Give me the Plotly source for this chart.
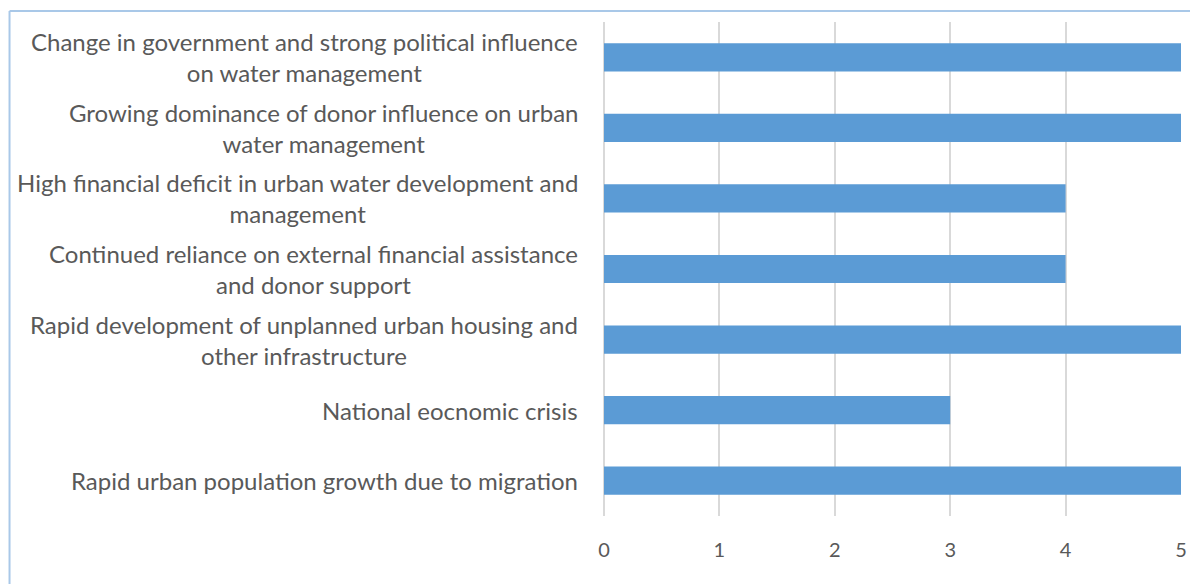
import plotly.graph_objects as go

# Drivers of change in urban water management, listed top to bottom
categories = [
    "Change in government and strong political influence<br>on water management",
    "Growing dominance of donor influence on urban<br>water management",
    "High financial deficit in urban water development and<br>management",
    "Continued reliance on external financial assistance<br>and donor support",
    "Rapid development of unplanned urban housing and<br>other infrastructure",
    "National eocnomic crisis",
    "Rapid urban population growth due to migration",
]
scores = [5, 5, 4, 4, 5, 3, 5]
x_ticks = [0, 1, 2, 3, 4, 5]

W, H = 1190, 584
L, R, T, B = 603.5, 8.5, 22, 68
plot_w = W - L - R
plot_h = H - T - B

fig = go.Figure(
    go.Bar(
        x=scores,
        y=categories,
        orientation="h",
        marker=dict(color="#5b9bd5", line=dict(width=0)),
        hoverinfo="skip",
    )
)

# Category labels as centred multi-line text, right edge just left of the plot
for cat in categories:
    fig.add_annotation(
        x=0, xref="paper", y=cat, yref="y",
        text=cat, showarrow=False,
        xanchor="right", yanchor="middle", align="center",
        xshift=-24,
        font=dict(family="Lato", size=24, color="#595959"),
    )

# Chart-area frame (left and top edges)
px = lambda p: (p - L) / plot_w
py = lambda p: 1 - (p - T) / plot_h
frame = dict(color="#a9c8e8", width=2)
fig.add_shape(type="line", xref="paper", yref="paper",
              x0=px(8), x1=px(8), y0=py(11), y1=py(H + 5), line=frame)
fig.add_shape(type="line", xref="paper", yref="paper",
              x0=px(8), x1=px(W + 5), y0=py(11), y1=py(11), line=frame)

fig.update_layout(
    width=W, height=H,
    margin=dict(l=L, r=R, t=T, b=B, autoexpand=False),
    paper_bgcolor="white", plot_bgcolor="white",
    bargap=0.6,
    showlegend=False,
    xaxis=dict(
        range=[0, 5], tickvals=x_ticks, ticktext=[str(v) for v in x_ticks],
        showgrid=True, gridcolor="#d9d9d9", gridwidth=2,
        zeroline=True, zerolinecolor="#d9d9d9", zerolinewidth=2,
        showline=False, ticks="", ticklabelstandoff=20,
        tickfont=dict(family="Lato", size=20, color="#595959"),
        fixedrange=True,
    ),
    yaxis=dict(
        autorange="reversed", showticklabels=False, showgrid=False,
        zeroline=False, showline=False, ticks="", fixedrange=True,
    ),
)

fig.write_html("out.html")
